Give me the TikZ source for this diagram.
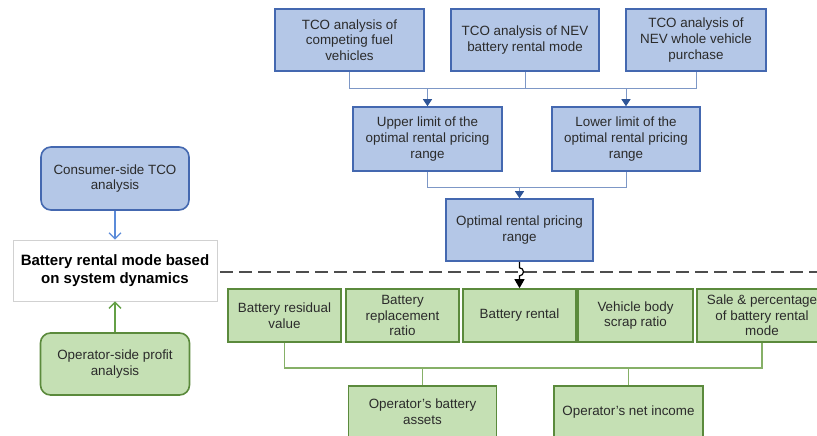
\documentclass[tikz,border=0pt]{standalone}
\usepackage{fontspec}
\setmainfont{Liberation Sans}
\usetikzlibrary{arrows.meta}
\definecolor{bfill}{HTML}{B4C7E7}
\definecolor{bdraw}{HTML}{4468B0}
\definecolor{gfill}{HTML}{C5E0B4}
\definecolor{gdraw}{HTML}{5B8A3C}
\definecolor{bline}{HTML}{7D97C6}
\definecolor{barrow}{HTML}{2F5597}
\definecolor{gline}{HTML}{86B067}
\definecolor{lblue}{HTML}{5B8BD9}
\definecolor{lgreen}{HTML}{64A046}
\definecolor{txt}{HTML}{2B2B2B}
\definecolor{dashc}{HTML}{4D4D4D}
\begin{document}
\begin{tikzpicture}[x=1pt,y=-1pt,
  box/.style={draw, line width=1.6pt, align=center, inner sep=0pt, text=txt,
    font=\fontsize{13.4}{15.7}\selectfont},
  bluebox/.style={box, fill=bfill, draw=bdraw},
  greenbox/.style={box, fill=gfill, draw=gdraw},
  bconn/.style={draw=bline, line width=1pt},
  btip/.style={bconn, -{Triangle[width=9pt,length=7pt,color=barrow,fill=barrow]}},
  gconn/.style={draw=gline, line width=1.2pt}]
\clip (0,0) rectangle (817,436);
\fill[white] (0,0) rectangle (817,436);
% top row
\node[bluebox, minimum width=149, minimum height=62] (t1) at (349.5,40) {TCO analysis of\\competing fuel\\vehicles};
\node[bluebox, minimum width=148, minimum height=62] (t2) at (525,40) {TCO analysis of NEV\\battery rental mode};
\node[bluebox, minimum width=140, minimum height=62] (t3) at (696,40) {TCO analysis of\\NEV whole vehicle\\purchase};
% middle row
\node[bluebox, minimum width=149, minimum height=64] (u) at (427.5,139) {Upper limit of the\\optimal rental pricing\\range};
\node[bluebox, minimum width=148, minimum height=64] (l) at (626,139) {Lower limit of the\\optimal rental pricing\\range};
% optimal
\node[bluebox, minimum width=147, minimum height=62] (o) at (519.5,230) {Optimal rental pricing\\range};
% left column
\node[bluebox, rounded corners=10pt, minimum width=148, minimum height=63] (cons) at (115,178.5) {Consumer-side TCO\\analysis};
\node[draw=black!18, line width=0.8pt, fill=white, align=center, inner sep=0pt, minimum width=204, minimum height=61,
  font=\bfseries\fontsize{15}{17.7}\selectfont] (white) at (115,270.5) {Battery rental mode based\\on system dynamics};
\node[greenbox, rounded corners=10pt, minimum width=149, minimum height=62] (op) at (115,364) {Operator-side profit\\analysis};
% green row
\node[greenbox, minimum width=113, minimum height=53] (ga) at (284.5,315.5) {Battery residual\\value};
\node[greenbox, minimum width=113, minimum height=53] (gb) at (402.5,315.5) {Battery\\replacement\\ratio};
\node[greenbox, minimum width=113, minimum height=53] (gc) at (519.5,315.5) {Battery rental};
\node[greenbox, minimum width=115, minimum height=53] (gd) at (635.5,315.5) {Vehicle body\\scrap ratio};
\node[greenbox, minimum width=130, minimum height=53] (ge) at (762,315.5) {Sale \& percentage\\of battery rental\\mode};
% bottom row
\node[greenbox, minimum width=148, minimum height=52] (as) at (422.5,412) {Operator's battery\\assets};
\node[greenbox, minimum width=149, minimum height=52] (ni) at (628.5,412) {Operator's net income};
% helper levels
\coordinate (hy1) at (0,89);
\coordinate (hy2) at (0,187);
\coordinate (gy) at (0,368);
\coordinate (dl) at (220,272);
\coordinate (dr) at (817,272);
% top connectors
\draw[bconn] (t1.south) -- (t1.south |- hy1) -- (t3.south |- hy1) -- (t3.south);
\draw[bconn] (t2.south) -- (t2.south |- hy1);
\draw[btip] (u.north |- hy1) -- (u.north);
\draw[btip] (l.north |- hy1) -- (l.north);
\draw[bconn] (u.south) -- (u.south |- hy2) -- (l.south |- hy2) -- (l.south);
\draw[btip] (o.north |- hy2) -- (o.north);
% dashed divider
\draw[dashc, line width=2pt, dash pattern=on 13pt off 6pt] (dl) -- (dr);
% black arrow with hop
\draw[line width=1.2pt, -{Triangle[width=10pt,length=9pt]}] (o.south) -- ++(0,-6pt) arc[start angle=90, end angle=-90, radius=4pt] -- (gc.north);
% left arrows
\draw[lblue, line width=1.2pt, -{Straight Barb[length=6pt,width=12pt]}] (cons.south) -- (white.north);
\draw[lgreen, line width=1.4pt, -{Straight Barb[length=6pt,width=12pt]}] (op.north) -- (white.south);
% green connectors
\draw[gconn] (ga.south) -- (ga.south |- gy) -- (ge.south |- gy) -- (ge.south);
\draw[gconn] (as.north |- gy) -- (as.north);
\draw[gconn] (ni.north |- gy) -- (ni.north);
\end{tikzpicture}
\end{document}
